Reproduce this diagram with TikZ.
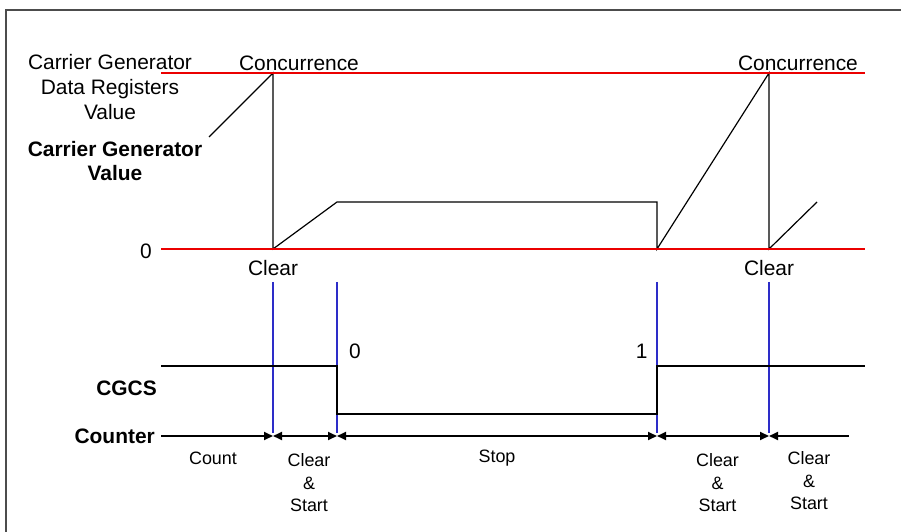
\documentclass[tikz,border=0pt]{standalone}
\usepackage{fontspec}
\setmainfont{Liberation Sans}
\usetikzlibrary{arrows.meta}
\definecolor{markblue}{RGB}{45,45,200}
\definecolor{levelred}{RGB}{235,0,0}
\begin{document}
\begin{tikzpicture}[x=1bp,y=-1bp,>={Triangle[length=9bp,width=8bp]},
  level/.style={levelred, line width=1.3bp},
  wave/.style={line width=1.2bp},
  marker/.style={markblue, line width=1.3bp},
  big/.style={font=\fontsize{21}{25.5}\selectfont, align=center, inner sep=0pt},
  small/.style={font=\fontsize{18}{22.5}\selectfont, align=center, inner sep=0pt},
  phase/.style={line width=2bp}]
  \useasboundingbox (0,0) rectangle (901,532);
  \draw [black!70, line width=2bp] (6,532) -- (6,10) -- (901,10);

  % carrier generator value
  \coordinate (top1)  at (273,73);
  \coordinate (zero1) at (273,249);
  \coordinate (top2)  at (769,73);
  \coordinate (zero2) at (769,249);
  \draw [wave] (209,137) -- (top1) -- (zero1) -- (337,202) -- (657,202)
    -- (657,249) -- (top2) -- (zero2) -- (817,202);
  \draw [level] (161,73)  -- (865,73);
  \draw [level] (161,249) -- (865,249);

  \node [big] (conc1) at (299,63) {Concurrence};
  \node [big] (conc2) at (798,63) {Concurrence};
  \node [big] (regval) at (110,87) {Carrier Generator\\Data Registers\\Value};
  \node [big, font=\fontsize{21}{24}\selectfont\bfseries] (cgval) at (115,161) {Carrier Generator\\Value};
  \node [big] (zero) at (146,251) {0};
  \node [big] (clr1) at (273,268) {Clear};
  \node [big] (clr2) at (769,268) {Clear};

  % markers
  \foreach \t in {273,337,657,769}
    \draw [marker] (\t,282) -- (\t,433);

  % CGCS
  \draw [wave] (161,366) -- (337,366) -- (337,414) -- (657,414)
    -- (657,366) -- (865,366);
  \node [big] (cgzero) at (355,351.7) {0};
  \node [big] (cgone) at (641.7,351.7) {1};
  \node [big, font=\fontsize{21}{24}\selectfont\bfseries, anchor=east] (cgcs) at (157,388) {CGCS};

  % counter
  \node [big, font=\fontsize{21}{24}\selectfont\bfseries, anchor=east] (counter) at (155,436) {Counter};
  \coordinate (c0) at (161,436);
  \coordinate (c1) at (273,436);
  \coordinate (c2) at (337,436);
  \coordinate (c3) at (657,436);
  \coordinate (c4) at (769,436);
  \coordinate (c5) at (849,436);
  \draw [phase, ->]  (c0) -- (c1);
  \draw [phase, <->] (c1) -- (c2);
  \draw [phase, <->] (c2) -- (c3);
  \draw [phase, <->] (c3) -- (c4);
  \draw [phase, <-]  (c4) -- (c5);

  \node [small] (count) at (213,458) {Count};
  \node [small] (cs1) at (309,483) {Clear\\\&\\Start};
  \node [small] (stop) at (497,458) {Stop};
  \node [small] (cs2) at (717.5,483) {Clear\\\&\\Start};
  \node [small] (cs3) at (809,481) {Clear\\\&\\Start};
\end{tikzpicture}
\end{document}
